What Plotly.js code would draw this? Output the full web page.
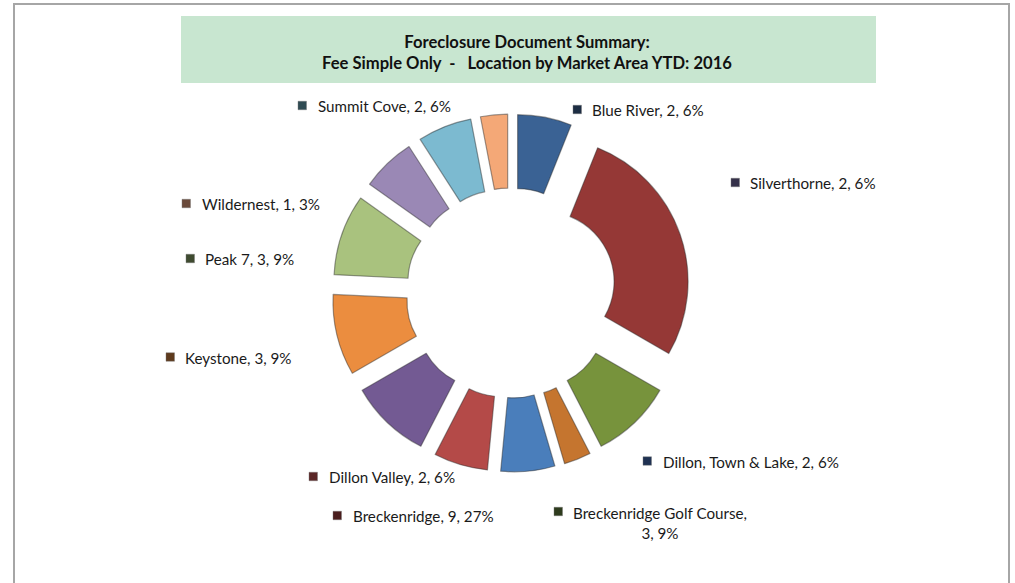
<!DOCTYPE html>
<html>
<head>
<meta charset="utf-8">
<script src="https://cdn.plot.ly/plotly-3.0.1.min.js"></script>
<style>
  html, body { margin: 0; padding: 0; background: #ffffff; }
  #chart { width: 1015px; height: 583px; }
</style>
</head>
<body>
<div id="chart"></div>
<script>
// ---- data (slices in chart order, clockwise from 12 o'clock) ----
const categories = [
  "Blue River", "Breckenridge", "Breckenridge Golf Course", "Unlabeled A",
  "Dillon, Town & Lake", "Dillon Valley", "Unlabeled B", "Keystone",
  "Peak 7", "Silverthorne", "Summit Cove", "Wildernest"
];
const counts = [2, 9, 3, 1, 2, 2, 3, 3, 3, 2, 2, 1];
const sliceColors = [
  "#3A6294", "#953836", "#77933C", "#C5752F",
  "#4A7EBB", "#B44A48", "#735A93", "#EB8D3F",
  "#A9C27E", "#9A88B5", "#7CBAD0", "#F4A877"
];
// categories that carry a data label in the picture
const labelled = [
  "Blue River", "Silverthorne", "Dillon, Town & Lake", "Breckenridge Golf Course",
  "Breckenridge", "Dillon Valley", "Keystone", "Peak 7", "Wildernest", "Summit Cove"
];
const labelMarkerColors = {
  "Blue River": "#1D2D43", "Silverthorne": "#35314A", "Dillon, Town & Lake": "#1F3152",
  "Breckenridge Golf Course": "#2E3B1D", "Breckenridge": "#4A1D1D", "Dillon Valley": "#5B2626",
  "Keystone": "#5E3A1D", "Peak 7": "#3F4B30", "Wildernest": "#6A4A3B", "Summit Cove": "#2F4B53"
};

// ---- layout positions (pixels) ----
const W = 1015, H = 583;
const px = x => x / W;
const py = y => 1 - y / H;
const labelPos = {
  "Summit Cove":              {mx: 298, my: 105.5, tx: 316},
  "Blue River":               {mx: 573, my: 109.5, tx: 590},
  "Silverthorne":             {mx: 731, my: 182.5, tx: 748},
  "Wildernest":               {mx: 182, my: 203.5, tx: 200},
  "Peak 7":                   {mx: 186, my: 258.5, tx: 203},
  "Keystone":                 {mx: 166, my: 357,   tx: 183},
  "Dillon, Town & Lake":      {mx: 643, my: 461,   tx: 661},
  "Dillon Valley":            {mx: 309, my: 476.5, tx: 327},
  "Breckenridge":             {mx: 333, my: 515.5, tx: 351},
  "Breckenridge Golf Course": {mx: 554, my: 511.5, tx: 571, wrap: true}
};

const total = counts.reduce((a, b) => a + b, 0);
const pullFrac = 0.243;
const cx = 511, cy = 293, half = 179;

const trace = {
  type: "pie",
  labels: categories,
  values: counts,
  sort: false,
  direction: "clockwise",
  rotation: 0,
  hole: 0.486,
  pull: counts.map(() => pullFrac),
  textinfo: "none",
  hoverinfo: "label+value+percent",
  marker: {
    colors: sliceColors,
    line: { color: "rgba(40,40,40,0.45)", width: 1.2 }
  },
  domain: { x: [px(cx - half), px(cx + half)], y: [py(cy + half), py(cy - half)] },
  showlegend: false
};

const shapes = [
  // outer chart frame
  { type: "rect", xref: "paper", yref: "paper", x0: px(14), x1: px(1009), y0: -0.05, y1: py(4),
    line: { color: "#A6A6A6", width: 2 }, fillcolor: "rgba(0,0,0,0)", layer: "below" },
  // title box
  { type: "rect", xref: "paper", yref: "paper", x0: px(181), x1: px(876), y0: py(83), y1: py(16),
    line: { width: 0 }, fillcolor: "#C8E6D0", layer: "below" }
];
const annotations = [];
const font = { family: "Lato, 'Open Sans', sans-serif", size: 15.2, color: "#1a1a1a" };

labelled.forEach(name => {
  const i = categories.indexOf(name);
  const v = counts[i];
  const pct = Math.round(v / total * 100);
  const p = labelPos[name];
  const s = 8.5;
  shapes.push({
    type: "rect", xref: "paper", yref: "paper",
    x0: px(p.mx), x1: px(p.mx + s), y0: py(p.my + s / 2), y1: py(p.my - s / 2),
    fillcolor: labelMarkerColors[name], line: { color: "rgba(120,120,120,0.7)", width: 0.6 }
  });
  if (p.wrap) {
    annotations.push({
      xref: "paper", yref: "paper", x: px(p.tx), y: py(p.my - 10), xanchor: "left", yanchor: "top",
      text: name + ",<br>" + v + ", " + pct + "%", align: "center", showarrow: false, font: font
    });
  } else {
    annotations.push({
      xref: "paper", yref: "paper", x: px(p.tx), y: py(p.my + 0.5), xanchor: "left", yanchor: "middle",
      text: name + ", " + v + ", " + pct + "%", align: "left", showarrow: false, font: font
    });
  }
});

const layout = {
  width: W, height: H,
  margin: { l: 0, r: 0, t: 0, b: 0 },
  paper_bgcolor: "#ffffff",
  plot_bgcolor: "#ffffff",
  title: {
    text: "Foreclosure Document Summary:<br>Fee Simple Only\u00A0 -\u00A0\u00A0 Location by Market Area YTD: 2016",
    x: px(527), xanchor: "center", xref: "paper",
    y: py(47.5), yanchor: "middle", yref: "paper",
    font: { family: "Lato, 'Open Sans', sans-serif", size: 16.6, color: "#111111", weight: "bold" }
  },
  shapes: shapes,
  annotations: annotations,
  showlegend: false
};

Plotly.newPlot("chart", [trace], layout, { displayModeBar: false, staticPlot: true });
</script>
</body>
</html>
